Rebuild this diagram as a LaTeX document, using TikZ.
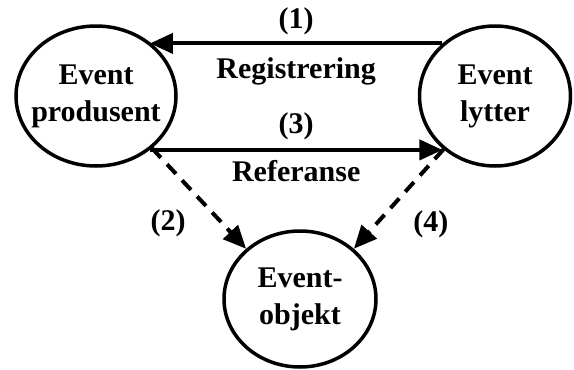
\documentclass[tikz,border=0pt]{standalone}
\usepackage{fontspec}
\setmainfont{Liberation Serif}
\usetikzlibrary{shapes.geometric,arrows.meta}

\tikzset{
    part/.style={ellipse, draw, line width=3.5pt, inner sep=0pt},
    lbl/.style={inner sep=2pt},
    ref/.style={dash pattern=on 13pt off 9pt},
}

\begin{document}
\begin{tikzpicture}[>={Triangle[length=23pt,width=20pt]}, x=1pt, y=-1pt,
    line width=4pt, font=\bfseries\fontsize{30}{37}\selectfont]

    \useasboundingbox (0,0) rectangle (574,370);

    % the three parts
    \node[part, minimum width=160pt, minimum height=140pt,
        label={[align=center]center:Event\\produsent}] (produsent) at (96,96) {};
    \node[part, minimum width=151pt, minimum height=140pt,
        label={[align=center]center:Event\\lytter}] (lytter) at (495,96) {};
    \node[part, minimum width=152pt, minimum height=136pt,
        label={[align=center]center:Event-\\objekt}] (objekt) at (300,299) {};

    % registrering and referanse
    \draw[->] (lytter.135) -- node[lbl, above=5pt] {(1)}
        node[lbl, below=10pt] {Registrering} (lytter.135 -| produsent.45);
    \draw[->] (produsent.-45) -- node[lbl, above=6pt] {(3)}
        node[lbl, below=6pt] {Referanse} (produsent.-45 -| lytter.225);

    % event-objekt
    \draw[ref, ->] (produsent.-43) -- node[lbl, pos=.75, left=33pt] {(2)} (objekt.137);
    \draw[ref, ->] (lytter.226) -- node[lbl, pos=.75, right=33pt] {(4)} (objekt.43);

\end{tikzpicture}
\end{document}
